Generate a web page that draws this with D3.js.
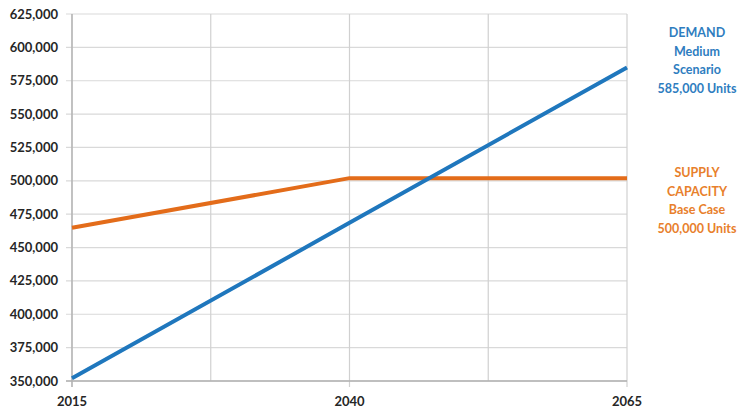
<!DOCTYPE html>
<html><head><meta charset="utf-8">
<script src="https://cdn.jsdelivr.net/npm/d3@7"></script>
<style>body{margin:0;background:#fff}svg{display:block}</style>
</head><body>
<svg id="c" width="740" height="409"></svg>
<script>
const years = [2015, 2040, 2065];
const demand = [352000, 468500, 585000];
const supply = [464800, 502000, 502000];
const xGrid = [2015, 2027.5, 2040, 2052.5, 2065];
const xLabels = [2015, 2040, 2065];
const yTicks = [350000,375000,400000,425000,450000,475000,500000,525000,550000,575000,600000,625000];
const demandLabel = ["DEMAND","Medium","Scenario","585,000 Units"];
const supplyLabel = ["SUPPLY","CAPACITY","Base Case","500,000 Units"];

const svg = d3.select("#c");
const x = d3.scaleLinear().domain([2015,2065]).range([72,627]);
const y = d3.scaleLinear().domain([350000,625000]).range([381,14]);
const font = "Lato, 'Open Sans', sans-serif";

// horizontal grid
svg.append("g").selectAll("line").data(yTicks).join("line")
  .attr("x1", 66).attr("x2", x(2065))
  .attr("y1", d=>y(d)).attr("y2", d=>y(d))
  .attr("stroke","#d9d9d9").attr("stroke-width",1.2);
// vertical grid
svg.append("g").selectAll("line").data(xGrid).join("line")
  .attr("x1", d=>x(d)).attr("x2", d=>x(d))
  .attr("y1", y(625000)).attr("y2", d=> xLabels.includes(d) ? y(350000)+6 : y(350000))
  .attr("stroke","#d0d0d0").attr("stroke-width",1.2);
// axes
svg.append("line").attr("x1",x(2015)).attr("x2",x(2015)).attr("y1",y(625000)).attr("y2",y(350000)+6).attr("stroke","#b0b0b0").attr("stroke-width",1.3);
svg.append("line").attr("x1",66).attr("x2",x(2065)).attr("y1",y(350000)).attr("y2",y(350000)).attr("stroke","#b0b0b0").attr("stroke-width",1.3);

// y labels
svg.append("g").selectAll("text").data(yTicks).join("text")
  .attr("x", 58).attr("y", d=>y(d)).attr("dy","0.35em")
  .attr("text-anchor","end").attr("font-family",font).attr("font-weight","bold")
  .attr("font-size",13).attr("fill","#262626")
  .text(d=>d3.format(",")(d));
// x labels
svg.append("g").selectAll("text").data(xLabels).join("text")
  .attr("x", d=>x(d)).attr("y", 406)
  .attr("text-anchor","middle").attr("font-family",font).attr("font-weight","bold")
  .attr("font-size",13).attr("fill","#262626")
  .text(d=>d);

const line = d3.line().x(d=>x(d[0])).y(d=>y(d[1]));
svg.append("path").datum(years.map((yr,i)=>[yr,supply[i]]))
  .attr("d",line).attr("fill","none").attr("stroke","#E36C1A").attr("stroke-width",4);
svg.append("path").datum(years.map((yr,i)=>[yr,demand[i]]))
  .attr("d",line).attr("fill","none").attr("stroke","#1F77BD").attr("stroke-width",4);

function block(lines, y0, color){
  svg.append("g").selectAll("text").data(lines).join("text")
    .attr("x",697).attr("y",(d,i)=>y0+i*18.5).attr("dy","0.35em")
    .attr("text-anchor","middle").attr("font-family",font).attr("font-weight","bold")
    .attr("font-size",12.5).attr("fill",color).text(d=>d);
}
block(demandLabel, 33, "#2E7DC0");
block(supplyLabel, 173, "#E8802C");
</script>
</body></html>
